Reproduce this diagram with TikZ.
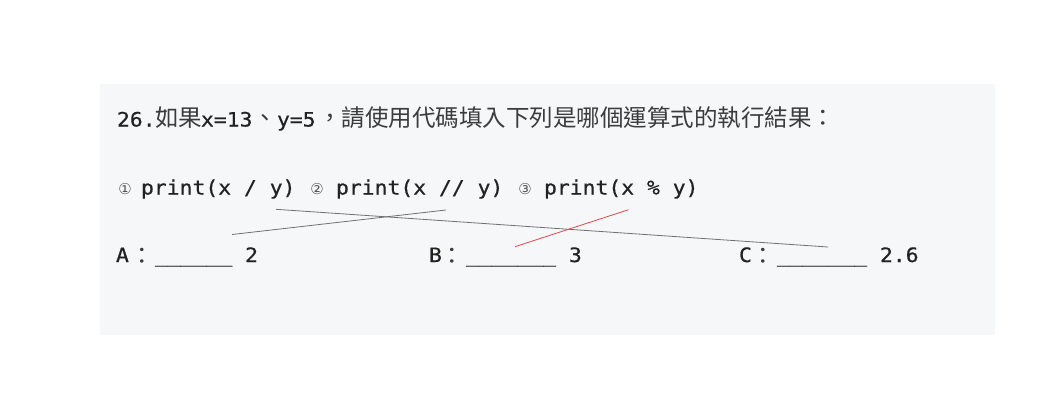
\documentclass[tikz,border=0pt]{standalone}
\usepackage{fontspec}
\newfontfamily\monof[FakeStretch=1.08,FakeBold=0.6]{DejaVu Sans Mono}
\newfontfamily\cjkf{Noto Sans CJK TC}
\newfontfamily\symf{DejaVu Sans}
\definecolor{panelc}{HTML}{F6F7F9}
\definecolor{txtc}{HTML}{222222}
\definecolor{cjkc}{HTML}{3C3C3C}
\definecolor{circc}{HTML}{555555}
\definecolor{linec}{HTML}{707070}
\definecolor{redc}{HTML}{E0474C}
\begin{document}
\begin{tikzpicture}[x=1pt,y=-1pt,
  monotext/.style={anchor=base west, inner sep=0pt, outer sep=0pt, text=txtc, font=\fontsize{19.8}{24}\selectfont\monof},
  cjktext/.style={anchor=base west, inner sep=0pt, outer sep=0pt, text=cjkc, font=\fontsize{23.5}{28}\selectfont\cjkf},
  circtext/.style={anchor=base, inner sep=0pt, outer sep=0pt, text=circc, font=\fontsize{15}{18}\selectfont\symf},
  link/.style={draw=linec, line width=0.8pt},
  redlink/.style={draw=redc, line width=0.8pt}]
\useasboundingbox (0,0) rectangle (1058,402);
\fill[panelc] (100,84) rectangle (995,334.5);
% title
\node[monotext] (t1) at (117,126.5) {26.};
\node[cjktext] (t2) at (155,126.5) {如果};
\node[monotext] (t3) at (201,126.5) {x=13};
\node[cjktext] (t4) at (253,126.5) {、};
\node[monotext] (t5) at (277,126.5) {y=5};
\node[cjktext] (t6) at (318,126.5) {，請使用代碼填入下列是哪個運算式的執行結果：};
% code line
\node[circtext] (c1) at (125,194) {①};
\node[monotext] (p1) at (141,194.5) {print(x / y)};
\node[circtext] (c2) at (317,194) {②};
\node[monotext] (p2) at (336,194.5) {print(x // y)};
\node[circtext] (c3) at (525,194) {③};
\node[monotext] (p3) at (544,194.5) {print(x \% y)};
% answers
\node[monotext] (a1) at (116,262) {A};
\node[cjktext, anchor=base] (a2) at (142.5,264) {：};
\node[monotext] (a3) at (155,262) {\_\_\_\_\_\_ 2};
\node[monotext] (b1) at (429,262) {B};
\node[cjktext, anchor=base] (b2) at (452,264) {：};
\node[monotext] (b3) at (466,262) {\_\_\_\_\_\_\_ 3};
\node[monotext] (d1) at (739,262) {C};
\node[cjktext, anchor=base] (d2) at (763.5,264) {：};
\node[monotext] (d3) at (777,262) {\_\_\_\_\_\_\_ 2.6};
% connectors
\coordinate (m1s) at (446,210);
\coordinate (m1e) at (232,234.5);
\coordinate (m2s) at (276,209.3);
\coordinate (m2e) at (828,247);
\coordinate (m3s) at (628.5,209.7);
\coordinate (m3e) at (515,246.7);
\draw[link] (m1s) -- (m1e);
\draw[link] (m2s) -- (m2e);
\draw[redlink] (m3s) -- (m3e);
\end{tikzpicture}
\end{document}
